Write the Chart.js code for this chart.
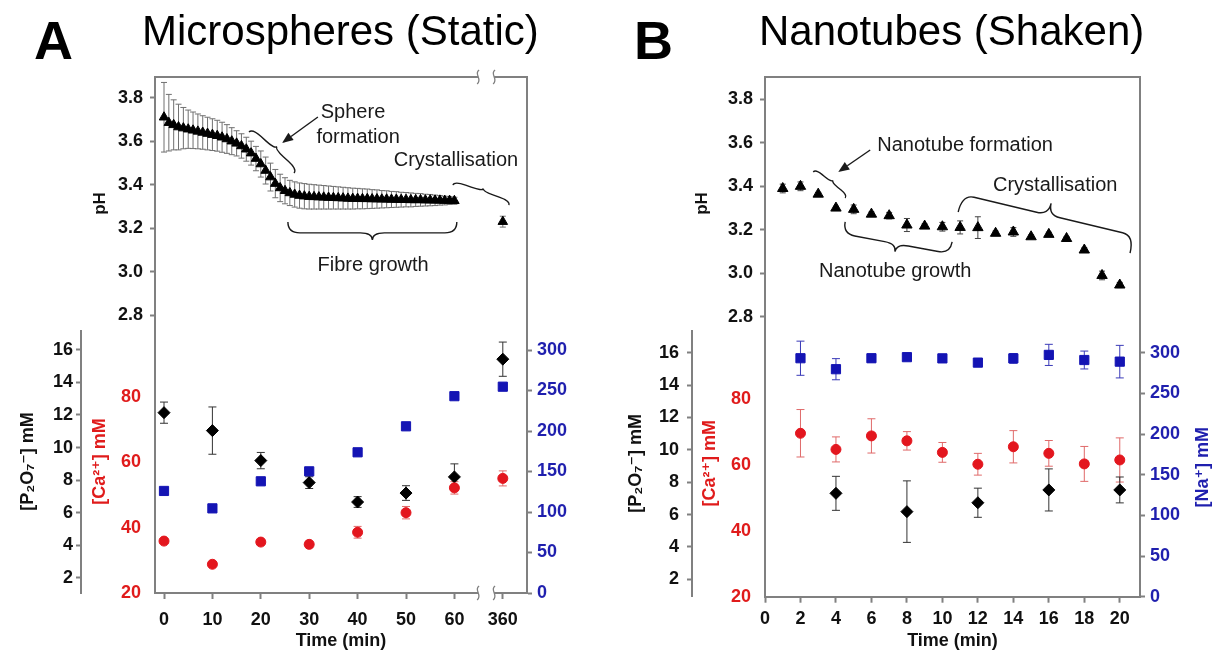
<!DOCTYPE html>
<html><head><meta charset="utf-8">
<script src="https://cdn.jsdelivr.net/npm/chart.js@4.4.1/dist/chart.umd.min.js"></script>
<style>
html,body{margin:0;padding:0;background:#fff;}
#page{position:relative;width:1215px;height:662px;overflow:hidden;background:#fff;font-family:"Liberation Sans",Arial,sans-serif;}
.box{position:absolute;}
.box canvas{display:block;}
.lbl{position:absolute;line-height:1;white-space:nowrap;color:#000;}
</style></head><body>
<div id="page">
  <div class="box" style="left:0;top:0"><canvas id="topA" width="600" height="330"></canvas></div>
  <div class="box" style="left:0;top:330px"><canvas id="botA" width="600" height="332"></canvas></div>
  <div class="box" style="left:600px;top:0"><canvas id="topB" width="615" height="330"></canvas></div>
  <div class="box" style="left:600px;top:330px"><canvas id="botB" width="615" height="332"></canvas></div>
  <div class="lbl" style="left:34px;top:13px;font-size:54px;font-weight:bold">A</div>
  <div class="lbl" style="left:142px;top:10px;font-size:42px;">Microspheres (Static)</div>
  <div class="lbl" style="left:634px;top:13px;font-size:54px;font-weight:bold">B</div>
  <div class="lbl" style="left:759px;top:10px;font-size:42px;">Nanotubes (Shaken)</div>
</div>
<script>
// ---------------- DATA ----------------
// Panel A: Microspheres (Static)
const phTimeA = [0,1,2,3,4,5,6,7,8,9,10,11,12,13,14,15,16,17,18,19,20,21,22,23,24,25,26,27,28,29,30,
  31,32,33,34,35,36,37,38,39,40,41,42,43,44,45,46,47,48,49,50,51,52,53,54,55,56,57,58,59,60,360];
const phA = [3.71,3.685,3.675,3.665,3.66,3.655,3.65,3.645,3.64,3.635,3.63,3.625,3.618,3.61,3.60,3.59,
  3.578,3.563,3.545,3.52,3.495,3.465,3.435,3.405,3.385,3.372,3.362,3.355,3.35,3.347,3.345,
  3.344,3.343,3.342,3.341,3.34,3.339,3.338,3.337,3.336,3.336,3.335,3.335,3.334,3.334,3.333,
  3.333,3.332,3.332,3.331,3.331,3.33,3.33,3.33,3.329,3.329,3.328,3.328,3.327,3.327,3.326,3.23];
const phErrA = [0.16,0.13,0.115,0.105,0.095,0.088,0.084,0.08,0.077,0.075,0.073,0.071,0.069,0.066,0.062,0.058,
  0.056,0.055,0.055,0.056,0.06,0.062,0.064,0.065,0.063,0.06,0.058,0.058,0.058,0.058,0.057,
  0.056,0.055,0.054,0.053,0.052,0.051,0.05,0.049,0.048,0.047,0.046,0.045,0.043,0.042,0.04,
  0.039,0.037,0.036,0.034,0.033,0.032,0.03,0.029,0.027,0.026,0.024,0.022,0.02,0.018,0.016,0.025];
const concTimeA = [0,10,20,30,40,50,60,360];
const p2o7A    = [12.14,11.04,9.2,7.85,6.66,7.21,8.2,15.42];
const p2o7ErrA = [0.65,1.45,0.5,0.36,0.33,0.45,0.8,1.05];
const caA      = [35.9,28.8,35.6,34.9,38.6,44.6,52.2,55.1];
const caErrA   = [0.8,0.5,0.9,1.0,1.8,1.9,1.9,2.3];
const naA      = [126,104.5,137.9,150.2,173.7,205.8,243,254.7];
const naErrA   = [2,1,2,2,4,4,2,2];
const timeTickLabelsA = ['0','10','20','30','40','50','60','360'];

// Panel B: Nanotubes (Shaken)
const phTimeB = [1,2,3,4,5,6,7,8,9,10,11,12,13,14,15,16,17,18,19,20];
const phB    = [3.39,3.40,3.364,3.30,3.294,3.272,3.265,3.222,3.217,3.214,3.211,3.21,3.184,3.19,3.168,3.179,3.16,3.107,2.99,2.946];
const phErrB = [0.02,0.02,0.008,0.008,0.02,0.01,0.015,0.03,0.01,0.02,0.03,0.05,0.01,0.02,0.008,0.01,0.008,0.01,0.02,0.012];
const concTimeB = [2,4,6,8,10,12,14,16,18,20];
const caB      = [69.6,64.7,68.8,67.3,63.8,60.2,65.5,63.5,60.3,61.5];
const caErrB   = [7.2,3.8,5.2,2.8,3.0,3.3,4.9,3.9,5.3,6.7];
const naB      = [293.2,279.7,293.2,294.5,293,287.8,293,297.3,291,289];
const naErrB   = [21,13,5,4,5,2,6,13,11,20];
const p2o7TimeB = [4,8,12,16,20];
const p2o7B    = [7.31,6.18,6.73,7.52,7.52];
const p2o7ErrB = [1.05,1.9,0.9,1.3,0.8];
const timeTickLabelsB = ['0','2','4','6','8','10','12','14','16','18','20'];

// Axis tick values
const phTicks   = [2.8,3.0,3.2,3.4,3.6,3.8];
const p2o7Ticks = [2,4,6,8,10,12,14,16];
const caTicks   = [20,40,60,80];
const naTicks   = [0,50,100,150,200,250,300];

// ---------------- STYLE / HELPERS ----------------
const GRAY = '#808080';
const RED = '#e3161e', RED_ERR = '#e06a6a', RED_TXT = '#e01b1b';
const BLUE = '#1414b4', BLUE_ERR = '#3a3ab8', BLUE_TXT = '#1f1fae';
const FONT = '"Liberation Sans", Arial, "DejaVu Sans", sans-serif';
const tickFont = () => ({family: FONT, size: 18, weight: 'bold'});
const titleFont = (s) => ({family: FONT, size: s, weight: 'bold'});
// broken time axis for panel A: 360 min drawn after a break
const brokenA = t => (t <= 60 ? t : 70);
const identity = t => t;

function fixW(w){ return s => { s.width = w; s.paddingTop = 0; s.paddingBottom = 0; s.paddingLeft = 0; s.paddingRight = 0; }; }
function fixH(h){ return s => { s.height = h; s.paddingTop = 0; s.paddingBottom = 0; s.paddingLeft = 0; s.paddingRight = 0; }; }
function setTicks(vals){ return s => { s.ticks = vals.map(v => ({value: v})); }; }

const errorBars = {
  id: 'errorBars',
  beforeDatasetsDraw(chart) {
    const ctx = chart.ctx;
    chart.data.datasets.forEach((ds, i) => {
      if (!ds.errors) return;
      const meta = chart.getDatasetMeta(i);
      const ys = chart.scales[ds.yAxisID || 'y'];
      ctx.save();
      ctx.strokeStyle = ds.errorColor; ctx.lineWidth = ds.errorWidth || 1;
      meta.data.forEach((pt, j) => {
        const e = ds.errors[j]; if (!e) return;
        const v = ds.data[j].y, x = pt.x;
        const y1 = ys.getPixelForValue(v + e), y2 = ys.getPixelForValue(v - e);
        const c = ds.capWidth || 3;
        ctx.beginPath();
        ctx.moveTo(x, y1); ctx.lineTo(x, y2);
        ctx.moveTo(x - c, y1); ctx.lineTo(x + c, y1);
        ctx.moveTo(x - c, y2); ctx.lineTo(x + c, y2);
        ctx.stroke();
      });
      ctx.restore();
    });
  }
};

function squiggle(ctx, x, y) {
  ctx.beginPath();
  ctx.moveTo(x + 1, y - 7);
  ctx.bezierCurveTo(x - 5, y - 3, x + 5, y + 2, x - 1, y + 7);
  ctx.stroke();
}

function framePlugin(brk) {
  return { id: 'frame', afterDraw(chart) {
    const {ctx, chartArea: a} = chart; const xs = chart.scales.x;
    ctx.save(); ctx.strokeStyle = GRAY; ctx.lineWidth = 2;
    ctx.beginPath();
    let g1, g2;
    if (brk) {
      g1 = xs.getPixelForValue(brk[0]); g2 = xs.getPixelForValue(brk[1]);
      ctx.moveTo(a.left - 1, a.top); ctx.lineTo(g1, a.top);
      ctx.moveTo(g2, a.top); ctx.lineTo(a.right, a.top);
    } else {
      ctx.moveTo(a.left - 1, a.top); ctx.lineTo(a.right, a.top);
    }
    ctx.lineTo(a.right, a.bottom);
    ctx.stroke();
    if (brk) { ctx.lineWidth = 1.3; squiggle(ctx, g1, a.top); squiggle(ctx, g2, a.top); }
    ctx.restore();
  }};
}

function xBreakPlugin(brk) {
  return { id: 'xbreak', afterDraw(chart) {
    const {ctx, chartArea: a} = chart; const xs = chart.scales.x;
    const g1 = xs.getPixelForValue(brk[0]), g2 = xs.getPixelForValue(brk[1]);
    ctx.save(); ctx.fillStyle = '#fff'; ctx.fillRect(g1, a.bottom - 3, g2 - g1, 6);
    ctx.strokeStyle = GRAY; ctx.lineWidth = 1.3;
    squiggle(ctx, g1, a.bottom); squiggle(ctx, g2, a.bottom);
    ctx.restore();
  }};
}

function drawBrace(ctx, x1, y1, x2, y2, w) {
  const L = Math.hypot(x2 - x1, y2 - y1);
  const ux = (x2 - x1) / L, uy = (y2 - y1) / L, nx = -uy, ny = ux;
  const h = 0.6 * w, r = Math.min(12, L / 5);
  const P = (s, o) => [x1 + ux * s + nx * o, y1 + uy * s + ny * o];
  ctx.beginPath();
  ctx.moveTo(...P(0, 0));
  ctx.quadraticCurveTo(...P(0, h), ...P(r, h));
  ctx.lineTo(...P(L / 2 - r, h));
  ctx.quadraticCurveTo(...P(L / 2, h), ...P(L / 2, w));
  ctx.quadraticCurveTo(...P(L / 2, h), ...P(L / 2 + r, h));
  ctx.lineTo(...P(L - r, h));
  ctx.quadraticCurveTo(...P(L, h), ...P(L, 0));
  ctx.stroke();
}

function drawArrow(ctx, x1, y1, x2, y2) {
  const ang = Math.atan2(y2 - y1, x2 - x1), len = 11, hw = 4.5;
  const bx = x2 - Math.cos(ang) * len, by = y2 - Math.sin(ang) * len;
  ctx.beginPath(); ctx.moveTo(x1, y1); ctx.lineTo(bx, by); ctx.stroke();
  ctx.beginPath();
  ctx.moveTo(x2, y2);
  ctx.lineTo(bx - Math.sin(ang) * hw, by + Math.cos(ang) * hw);
  ctx.lineTo(bx + Math.sin(ang) * hw, by - Math.cos(ang) * hw);
  ctx.closePath(); ctx.fill();
}

function annotPlugin(items) {
  return { id: 'annot', afterDatasetsDraw(chart) {
    const ctx = chart.ctx, xs = chart.scales.x, ys = chart.scales.y;
    const X = v => xs.getPixelForValue(v), Y = v => ys.getPixelForValue(v);
    ctx.save();
    ctx.strokeStyle = '#1a1a1a'; ctx.fillStyle = '#1a1a1a'; ctx.lineWidth = 1.4;
    ctx.font = '20px ' + FONT; ctx.textAlign = 'center'; ctx.textBaseline = 'middle';
    items.texts.forEach(([t, x, y]) => ctx.fillText(t, X(x), Y(y)));
    items.arrows.forEach(([xa, ya, xb, yb]) => drawArrow(ctx, X(xa), Y(ya), X(xb), Y(yb)));
    items.braces.forEach(([xa, ya, xb, yb, w]) => drawBrace(ctx, X(xa), Y(ya), X(xb), Y(yb), w));
    ctx.restore();
  }};
}

const naTitlePlugin = { id: 'naTitle', afterDraw(chart) {
  const s = chart.scales.na, ctx = chart.ctx;
  ctx.save();
  ctx.translate(s.right - 12, (s.top + s.bottom) / 2 + 4);
  ctx.rotate(-Math.PI / 2);
  ctx.font = 'bold 18px ' + FONT; ctx.fillStyle = BLUE_TXT;
  ctx.textAlign = 'center'; ctx.textBaseline = 'middle';
  ctx.fillText('[Na\u207A] mM', 0, 0);
  ctx.restore();
}};

// ---------------- CHART BUILDERS ----------------
function topChart(id, P) {
  return new Chart(document.getElementById(id), {
    type: 'scatter',
    data: { datasets: [{
      data: P.time.map((t, i) => ({x: P.pos(t), y: P.ph[i]})),
      errors: P.err, errorColor: P.errColor, capWidth: 3,
      pointStyle: 'triangle', pointRadius: P.triR, backgroundColor: '#000', borderColor: '#000', borderWidth: 1
    }]},
    options: {
      responsive: false, animation: false, events: [],
      layout: { padding: {top: 77, right: P.padRight, bottom: 0, left: 0}, autoPadding: false },
      plugins: { legend: {display: false}, tooltip: {enabled: false} },
      scales: {
        x: { type: 'linear', display: false, min: P.xMin, max: P.xMax },
        y: { min: P.yMin, max: P.yMax, afterFit: fixW(P.leftW), afterBuildTicks: setTicks(phTicks),
             ticks: { font: tickFont(), color: '#111', padding: 7, callback: v => v.toFixed(1) },
             grid: { drawOnChartArea: false, drawTicks: true, tickLength: 5, tickColor: GRAY, tickWidth: 2 },
             border: { display: true, color: GRAY, width: 2 },
             title: { display: true, text: 'pH', font: titleFont(17), color: '#111', padding: {top: P.titlePad, bottom: 0} } }
      }
    },
    plugins: [errorBars, framePlugin(P.brk), annotPlugin(P.annot)]
  });
}

function bottomChart(id, P) {
  const plugins = [errorBars];
  if (P.brk) plugins.push(xBreakPlugin(P.brk));
  if (P.naTitle) plugins.push(naTitlePlugin);
  return new Chart(document.getElementById(id), {
    type: 'scatter',
    data: { datasets: [
      { yAxisID: 'na', data: P.time.map((t, i) => ({x: P.pos(t), y: P.na[i]})), errors: P.naErr, errorColor: BLUE_ERR, capWidth: 4,
        pointStyle: 'rect', pointRadius: 6.5, backgroundColor: BLUE, borderColor: BLUE, borderWidth: 1 },
      { yAxisID: 'ca', data: P.time.map((t, i) => ({x: P.pos(t), y: P.ca[i]})), errors: P.caErr, errorColor: RED_ERR, capWidth: 4,
        pointStyle: 'circle', pointRadius: 5, backgroundColor: RED, borderColor: RED, borderWidth: 1 },
      { yAxisID: 'p', data: P.pTime.map((t, i) => ({x: P.pos(t), y: P.p[i]})), errors: P.pErr, errorColor: '#333', capWidth: 4,
        pointStyle: 'rectRot', pointRadius: 6, backgroundColor: '#000', borderColor: '#000', borderWidth: 1 }
    ]},
    options: {
      responsive: false, animation: false, events: [],
      layout: { padding: {top: 0, right: 0, bottom: 0, left: 0}, autoPadding: false },
      plugins: { legend: {display: false}, tooltip: {enabled: false} },
      scales: {
        x: { type: 'linear', position: 'bottom', min: P.xMin, max: P.xMax, afterFit: fixH(P.xH),
             afterBuildTicks: setTicks(P.xTicks),
             ticks: { font: tickFont(), color: '#111', padding: P.xPad, autoSkip: false, maxRotation: 0,
                      callback: (v, i) => P.xLabels[i] },
             grid: { drawOnChartArea: false, drawTicks: true, tickLength: 6, tickColor: GRAY, tickWidth: 2 },
             border: { display: true, color: GRAY, width: 2 },
             title: { display: true, text: 'Time (min)', font: titleFont(18), color: '#111', padding: {top: 0, bottom: 10} } },
        p: { position: 'left', weight: 2, min: P.pMin, max: P.pMax, afterFit: fixW(P.pW), afterBuildTicks: setTicks(p2o7Ticks),
             ticks: { font: tickFont(), color: '#111', padding: P.pPad },
             grid: { drawOnChartArea: false, drawTicks: true, tickLength: 5, tickColor: GRAY, tickWidth: 2 },
             border: { display: true, color: GRAY, width: 2 },
             title: { display: true, text: '[P\u2082O\u2087\u207B] mM', font: titleFont(18), color: '#111', padding: {top: P.pTitlePad, bottom: 0} } },
        ca: { position: 'left', weight: 1, min: 20, max: P.caMax, afterFit: fixW(P.caW), afterBuildTicks: setTicks(caTicks),
             ticks: { font: tickFont(), color: RED_TXT, padding: 14 },
             grid: { display: true, drawOnChartArea: false, drawTicks: false },
             border: { display: true, color: GRAY, width: 2 },
             title: { display: true, text: '[Ca\u00B2\u207A] mM', font: titleFont(18), color: RED_TXT, padding: {top: P.caTitlePad, bottom: 0} } },
        na: { position: 'right', min: 0, max: P.naMax, afterFit: fixW(P.naW), afterBuildTicks: setTicks(naTicks),
             ticks: { font: tickFont(), color: BLUE_TXT, padding: 5 },
             grid: { drawOnChartArea: false, drawTicks: true, tickLength: 5, tickColor: GRAY, tickWidth: 2 },
             border: { display: true, color: GRAY, width: 2 },
             title: { display: false } }
      }
    },
    plugins
  });
}

// ---------------- PANEL A ----------------
topChart('topA', {
  time: phTimeA, ph: phA, err: phErrA, pos: brokenA, errColor: '#707070', triR: 5.5,
  xMin: -1.86, xMax: 75, yMin: 2.732, yMax: 3.895, leftW: 155, padRight: 73, titlePad: 90,
  brk: [64.9, 68.2],
  annot: {
    texts: [['Sphere', 39.05, 3.73], ['formation', 40.1, 3.619], ['Crystallisation', 60.33, 3.513], ['Fibre growth', 43.2, 3.03]],
    arrows: [[31.8, 3.711, 24.4, 3.592]],
    braces: [[17.56, 3.642, 26.86, 3.454, -8], [59.7, 3.398, 71.28, 3.306, -7], [25.6, 3.228, 60.5, 3.228, 18]]
  }
});
bottomChart('botA', {
  time: concTimeA, pTime: concTimeA, pos: brokenA,
  na: naA, naErr: naErrA, ca: caA, caErr: caErrA, p: p2o7A, pErr: p2o7ErrA,
  xMin: -1.86, xMax: 75, xH: 69, xPad: 10,
  xTicks: concTimeA.map(brokenA), xLabels: timeTickLabelsA, brk: [64.9, 68.2],
  pMin: 1.08, pMax: 17.21, pW: 81, pPad: 3, pTitlePad: 17,
  caMax: 100.55, caW: 74, caTitlePad: 8,
  naMax: 324.7, naW: 73, naTitle: false
});

// ---------------- PANEL B ----------------
topChart('topB', {
  time: phTimeB, ph: phB, err: phErrB, pos: identity, errColor: '#444', triR: 6,
  xMin: 0, xMax: 21.14, yMin: 2.739, yMax: 3.903, leftW: 165, padRight: 75, titlePad: 92,
  brk: null,
  annot: {
    texts: [['Nanotube formation', 11.28, 3.59], ['Crystallisation', 16.36, 3.405], ['Nanotube growth', 7.34, 3.006]],
    arrows: [[5.93, 3.567, 4.13, 3.466]],
    braces: [[2.72, 3.466, 4.52, 3.346, -6], [10.89, 3.282, 20.58, 3.093, -30], [4.52, 3.236, 10.55, 3.144, 20]]
  }
});
bottomChart('botB', {
  time: concTimeB, pTime: p2o7TimeB, pos: identity,
  na: naB, naErr: naErrB, ca: caB, caErr: caErrB, p: p2o7B, pErr: p2o7ErrB,
  xMin: 0, xMax: 21.14, xH: 65.3, xPad: 6,
  xTicks: [0,2,4,6,8,10,12,14,16,18,20], xLabels: timeTickLabelsB, brk: null,
  pMin: 0.925, pMax: 17.4, pW: 92, pPad: 8, pTitlePad: 25,
  caMax: 100.94, caW: 73, caTitlePad: 7,
  naMax: 327.9, naW: 75, naTitle: true
});
</script>
</body></html>
